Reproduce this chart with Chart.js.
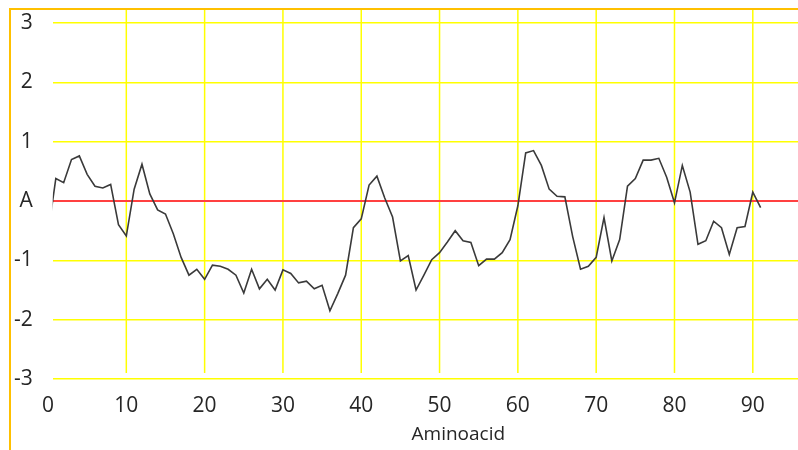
<!DOCTYPE html>
<html>
<head>
<meta charset="utf-8">
<script src="https://cdn.jsdelivr.net/npm/chart.js@4.4.1/dist/chart.umd.min.js"></script>
<style>
  html, body { margin: 0; padding: 0; background: #fff; overflow: hidden; }
  #wrap { position: relative; width: 798px; height: 450px; overflow: hidden; }
  #wrap canvas { position: absolute; left: 0; top: 0; }
  #frame {
    position: absolute; left: 9px; top: 8px; width: 900px; height: 500px;
    border-top: 2px solid #FFC000; border-left: 2px solid #FFC000;
    pointer-events: none;
  }
</style>
</head>
<body>
<div id="wrap">
  <canvas id="chart" width="864" height="450"></canvas>
  <div id="frame"></div>
</div>
<script>
// Hydropathie-Profil, Werte
const aminoacid = [
  0, 1, 2, 3, 4, 5, 6, 7, 8, 9, 10, 11, 12, 13, 14, 15, 16, 17, 18, 19,
  20, 21, 22, 23, 24, 25, 26, 27, 28, 29, 30, 31, 32, 33, 34, 35, 36, 37, 38, 39,
  40, 41, 42, 43, 44, 45, 46, 47, 48, 49, 50, 51, 52, 53, 54, 55, 56, 57, 58, 59,
  60, 61, 62, 63, 64, 65, 66, 67, 68, 69, 70, 71, 72, 73, 74, 75, 76, 77, 78, 79,
  80, 81, 82, 83, 84, 85, 86, 87, 88, 89, 90, 91
];
const hydropathy = [
  -0.55, 0.38, 0.31, 0.70, 0.76, 0.45, 0.25, 0.22, 0.28, -0.40,
  -0.59, 0.20, 0.62, 0.12, -0.15, -0.22, -0.55, -0.95, -1.25, -1.15,
  -1.32, -1.08, -1.10, -1.15, -1.25, -1.55, -1.15, -1.48, -1.32, -1.50,
  -1.16, -1.22, -1.38, -1.35, -1.48, -1.42, -1.85, -1.56, -1.25, -0.45,
  -0.30, 0.27, 0.42, 0.05, -0.27, -1.01, -0.92, -1.50, -1.25, -0.99,
  -0.87, -0.69, -0.50, -0.67, -0.70, -1.09, -0.98, -0.98, -0.87, -0.65,
  -0.08, 0.81, 0.85, 0.60, 0.20, 0.08, 0.07, -0.60, -1.15, -1.10,
  -0.95, -0.28, -1.01, -0.65, 0.25, 0.38, 0.69, 0.69, 0.72, 0.40,
  -0.03, 0.60, 0.15, -0.73, -0.67, -0.34, -0.45, -0.90, -0.45, -0.43,
  0.15, -0.11
];
const xTicks = [0, 10, 20, 30, 40, 50, 60, 70, 80, 90];
const yTicks = [-3, -2, -1, 0, 1, 2, 3];
const yTickLabels = ["-3", "-2", "-1", "A", "1", "2", "3"];

const FONT = "'Open Sans', 'Noto Sans', sans-serif";
const TEXT = "#262626";
const YELLOW = "#FFFF00";
const RED = "#FF4040";

// senkrechte Gitterlinien enden knapp oberhalb von -3
const xGrid = {
  id: "xGrid",
  beforeDraw(chart) {
    const { ctx, chartArea, scales } = chart;
    const yEnd = scales.y.getPixelForValue(-2.9);
    ctx.save();
    ctx.strokeStyle = YELLOW;
    ctx.lineWidth = 1.5;
    scales.x.ticks.forEach(t => {
      if (t.value === 0) return;
      const px = scales.x.getPixelForValue(t.value);
      ctx.beginPath();
      ctx.moveTo(px, chartArea.top);
      ctx.lineTo(px, yEnd);
      ctx.stroke();
    });
    ctx.restore();
  }
};

new Chart(document.getElementById("chart"), {
  type: "line",
  data: {
    datasets: [{
      data: aminoacid.map((x, i) => ({ x: x, y: hydropathy[i] })),
      borderColor: "#3a3a3a",
      borderWidth: 1.6,
      pointRadius: 0,
      tension: 0
    }]
  },
  options: {
    responsive: false,
    animation: false,
    layout: { padding: { top: 10, left: 0, right: 0, bottom: 0 } },
    plugins: {
      legend: { display: false },
      tooltip: { enabled: false }
    },
    scales: {
      x: {
        type: "linear",
        min: 0.6,
        max: 104.2,
        afterBuildTicks: s => { s.ticks = xTicks.map(v => ({ value: v })); },
        afterFit: s => { s.height = 71; s.paddingLeft = 0; s.paddingRight = 0; },
        grid: { display: false, drawTicks: false },
        border: { display: false },
        ticks: {
          padding: 14, autoSkip: false, maxRotation: 0,
          color: TEXT, font: { family: FONT, size: 21 }
        },
        title: {
          display: true, text: "Aminoacid", color: TEXT,
          font: { family: FONT, size: 19 },
          padding: { top: 0, bottom: 4 }
        }
      },
      y: {
        min: -3,
        max: 3.22,
        afterBuildTicks: s => { s.ticks = yTicks.map(v => ({ value: v })); },
        afterFit: s => { s.width = 52.7; s.paddingTop = 0; s.paddingBottom = 0; },
        grid: {
          drawTicks: false,
          color: c => (c.tick && c.tick.value === 0 ? RED : YELLOW),
          lineWidth: c => (c.tick && c.tick.value === 0 ? 2 : 1.5)
        },
        border: { display: false },
        ticks: {
          padding: 20,
          color: TEXT, font: { family: FONT, size: 21 },
          callback: v => yTickLabels[yTicks.indexOf(v)]
        }
      }
    }
  },
  plugins: [xGrid]
});
</script>
</body>
</html>
